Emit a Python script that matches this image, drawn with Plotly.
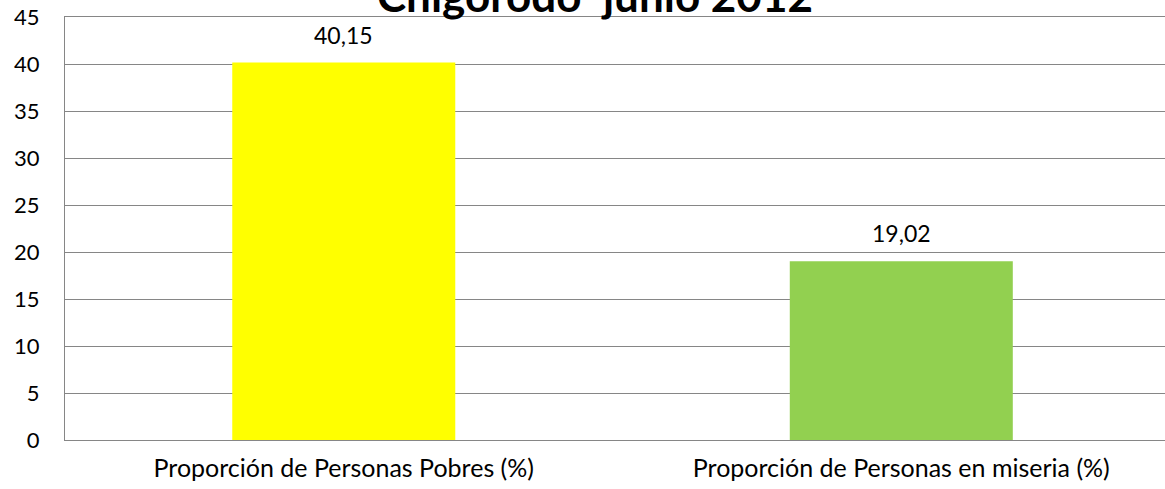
import plotly.graph_objects as go

categories = ["Proporción de Personas Pobres (%)", "Proporción de Personas en miseria (%)"]
values = [40.15, 19.02]
colors = ["#FFFF00", "#92D050"]
title_text = "Chigorodó  junio 2012"
y_ticks = [0, 5, 10, 15, 20, 25, 30, 35, 40, 45]

font_family = "Lato"

fig = go.Figure()
fig.add_trace(go.Bar(
    x=categories, y=values, marker=dict(color=colors, line=dict(width=0)),
    width=0.4, hoverinfo="skip",
))

for c, v in zip(categories, values):
    fig.add_annotation(
        x=c, y=v, xref="x", yref="y", text=f"{v:.2f}".replace(".", ","),
        showarrow=False, yanchor="bottom", yshift=12,
        font=dict(family=font_family, size=23, color="#000000"),
    )

fig.add_annotation(
    x=0.482, y=1, xref="paper", yref="paper", text=f"<b>{title_text}</b>",
    showarrow=False, yanchor="bottom", xanchor="center", yshift=-6,
    font=dict(family=font_family, size=44, color="#000000"),
)

fig.update_layout(
    width=1165, height=489,
    margin=dict(l=65, r=0, t=17, b=49),
    paper_bgcolor="white", plot_bgcolor="white",
    showlegend=False,
    font=dict(family=font_family, size=22, color="#000000"),
    xaxis=dict(
        range=[-0.5, 1.473], showgrid=False, showline=True, mirror=True,
        linecolor="#868686", linewidth=1, ticks="", tickfont=dict(size=25),
        ticklabelstandoff=6,
    ),
    yaxis=dict(
        range=[0, 45], tickvals=y_ticks, showgrid=True, gridcolor="#868686",
        gridwidth=1, showline=True, linecolor="#868686", linewidth=1,
        ticks="", zeroline=False, tickfont=dict(size=22), ticklabelstandoff=20,
    ),
)

fig.write_html(
    "out.html",
    config={"displayModeBar": False},
    post_script="document.body.style.margin='0px';document.body.style.overflow='hidden';",
)
